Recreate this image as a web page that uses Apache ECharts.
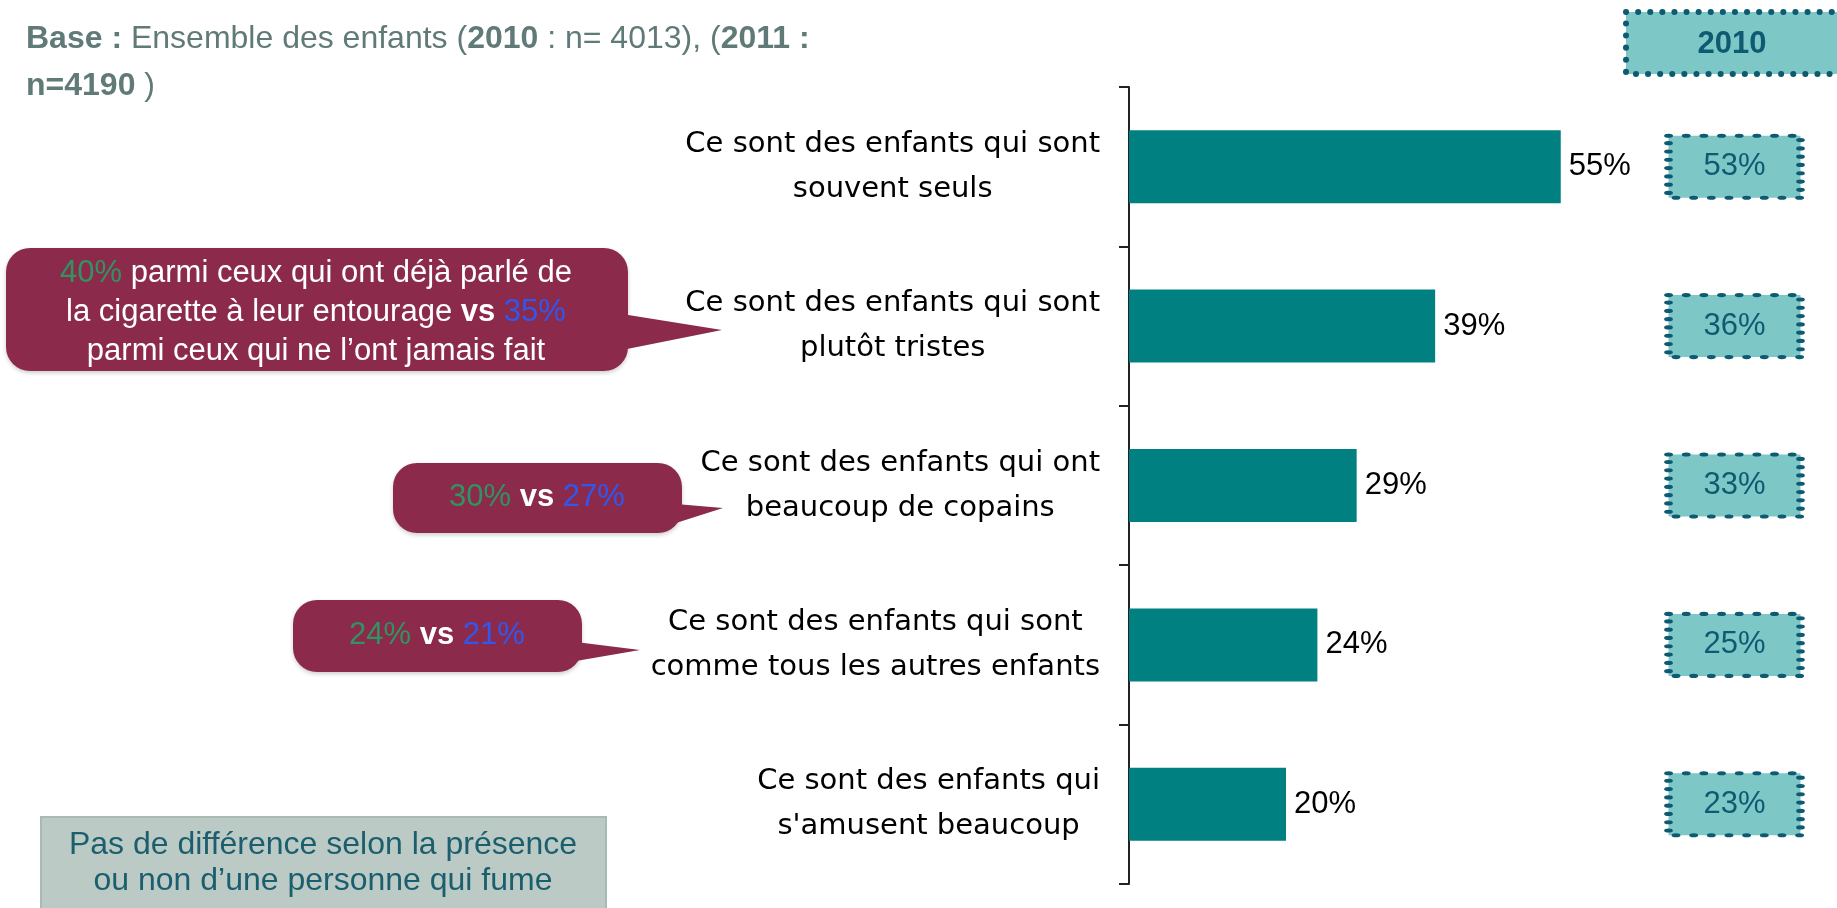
<!DOCTYPE html>
<html>
<head>
<meta charset="utf-8">
<title>Enfants - perception</title>
<script src="https://cdn.jsdelivr.net/npm/echarts@6/dist/echarts.min.js"></script>
<style>
    html, body { margin: 0; padding: 0; background: #fff; }
    #chart { width: 1837px; height: 908px; }
</style>
</head>
<body>
<div id="chart"></div>
<script>
// libellés des items (retour à la ligne comme dans l'original)
var categories = [
    'Ce sont des enfants qui sont\nsouvent seuls',
    'Ce sont des enfants qui sont\nplutôt tristes',
    'Ce sont des enfants qui ont\nbeaucoup de copains',
    'Ce sont des enfants qui sont\ncomme tous les autres enfants',
    'Ce sont des enfants qui\ns\'amusent beaucoup'
];
var values2011 = [55, 39, 29, 24, 20];
var values2010 = [53, 36, 33, 25, 23];
var yearColumn = ['2010'];

// bulles : [pourcentage vert, pourcentage bleu]
var bubble1 = ['40%', '35%'];
var bubble2 = ['30%', '27%'];
var bubble3 = ['24%', '21%'];

var baseText = ['Base :', ' Ensemble des enfants (', '2010', ' : n= 4013), (', '2011 :', 'n=4190', ' )'];
var noteText = 'Pas de différence selon la présence\nou non d’une personne qui fume';

var teal = '#008080';
var boxFill = '#7dc7c7';
var boxDark = '#0e5a70';
var bubbleColor = '#8c2a4b';
var sans = '"Liberation Sans", Arial, sans-serif';

var chart = echarts.init(document.getElementById('chart'));

// une bulle = rectangle arrondi + pointe + texte
function makeBubble(box, tail, text, textPos) {
    return {
        type: 'group',
        children: [{
            type: 'rect',
            shape: { x: box[0], y: box[1], width: box[2], height: box[3], r: 24 },
            style: { fill: bubbleColor, shadowBlur: 4, shadowOffsetY: 2, shadowColor: 'rgba(0,0,0,0.2)' }
        }, {
            type: 'polygon',
            shape: { points: tail },
            style: { fill: bubbleColor }
        }, {
            type: 'text',
            x: textPos[0],
            y: textPos[1],
            style: {
                text: text,
                fill: '#fff',
                font: '31px ' + sans,
                align: 'center',
                verticalAlign: 'middle',
                lineHeight: 39,
                rich: {
                    g: { fill: '#2f9462', fontSize: 31, fontFamily: sans, lineHeight: 39 },
                    u: { fill: '#2f58f0', fontSize: 31, fontFamily: sans, lineHeight: 39 },
                    b: { fill: '#fff', fontSize: 31, fontWeight: 'bold', fontFamily: sans, lineHeight: 39 }
                }
            }
        }]
    };
}

var option = {
    backgroundColor: '#fff',
    animation: false,
    grid: [
        { left: 1129, top: 87, bottom: 24, right: 80 },
        { left: 1666, top: 87, bottom: 24, width: 137 }
    ],
    xAxis: [
        { type: 'value', min: 0, max: 80, show: false, gridIndex: 0 },
        { type: 'category', data: yearColumn, show: false, gridIndex: 1 }
    ],
    yAxis: [{
        type: 'category',
        gridIndex: 0,
        inverse: true,
        data: categories,
        axisLine: { show: true, lineStyle: { color: '#222', width: 2 } },
        axisTick: { show: true, length: 10, lineStyle: { color: '#222', width: 2 } },
        splitLine: { show: false },
        axisLabel: {
            margin: 29,
            formatter: function (v) {
                return v.split('\n').map(function (l) { return '{c|' + l + '}'; }).join('\n');
            },
            rich: {
                c: { align: 'center', fontSize: 29, lineHeight: 45, color: '#000', fontFamily: '"Comic Sans MS", "DejaVu Sans", sans-serif' }
            }
        }
    }, {
        type: 'category',
        gridIndex: 1,
        inverse: true,
        data: categories,
        show: false
    }],
    series: [{
        name: '2011',
        type: 'bar',
        xAxisIndex: 0,
        yAxisIndex: 0,
        data: values2011,
        barWidth: 73,
        itemStyle: { color: teal },
        label: {
            show: true,
            position: 'right',
            distance: 8,
            formatter: '{c}%',
            color: '#000',
            fontSize: 31,
            fontFamily: sans
        }
    }, {
        name: '2010',
        type: 'scatter',
        xAxisIndex: 1,
        yAxisIndex: 1,
        symbol: 'rect',
        symbolSize: [132, 62],
        data: values2010.map(function (v, i) { return [0, i, v]; }),
        itemStyle: {
            color: boxFill,
            opacity: 1,
            borderColor: boxDark,
            borderWidth: 6,
            borderType: [0.1, 12],
            borderCap: 'round'
        },
        label: {
            show: true,
            position: 'inside',
            formatter: function (p) { return p.value[2] + '%'; },
            color: boxDark,
            fontSize: 31,
            fontFamily: sans
        }
    }],
    graphic: [
        // en-tête "Base"
        {
            type: 'text',
            left: 26,
            top: 16,
            style: {
                text: '{b|' + baseText[0] + '}' + baseText[1] + '{b|' + baseText[2] + '}' + baseText[3] + '{b|' + baseText[4] + '}\n{b|' + baseText[5] + '}' + baseText[6],
                fill: '#607a78',
                font: '32px ' + sans,
                lineHeight: 47,
                rich: {
                    b: { fill: '#607a78', fontSize: 32, fontWeight: 'bold', fontFamily: sans, lineHeight: 47 }
                }
            }
        },
        // case "2010" en haut à droite
        {
            type: 'rect',
            shape: { x: 1626, y: 12, width: 216, height: 62 },
            style: { fill: boxFill, stroke: boxDark, lineWidth: 6, lineDash: [0.1, 12], lineCap: 'round' }
        },
        {
            type: 'text',
            x: 1732,
            y: 44,
            style: {
                text: yearColumn[0],
                fill: boxDark,
                font: 'bold 31px ' + sans,
                align: 'center',
                verticalAlign: 'middle'
            }
        },
        makeBubble([6, 248, 622, 123], [[622, 314], [722, 330], [622, 350]],
            '{g|' + bubble1[0] + '} parmi ceux qui ont déjà parlé de\nla cigarette à leur entourage {b|vs} {u|' + bubble1[1] + '}\nparmi ceux qui ne l’ont jamais fait',
            [316, 312]),
        makeBubble([393, 463, 289, 70], [[676, 504], [723, 508], [676, 523]],
            '{g|' + bubble2[0] + '} {b|vs} {u|' + bubble2[1] + '}',
            [537, 497]),
        makeBubble([293, 600, 289, 72], [[576, 642], [640, 650], [576, 661]],
            '{g|' + bubble3[0] + '} {b|vs} {u|' + bubble3[1] + '}',
            [437, 635]),
        // encadré du bas
        {
            type: 'rect',
            shape: { x: 41, y: 817, width: 565, height: 100 },
            style: { fill: '#bccac5', stroke: '#a9b9b4', lineWidth: 2 }
        },
        {
            type: 'text',
            x: 323,
            y: 863,
            style: {
                text: noteText,
                fill: '#1b5e6e',
                font: '32px ' + sans,
                lineHeight: 36,
                align: 'center',
                verticalAlign: 'middle'
            }
        }
    ]
};
chart.setOption(option);
</script>
</body>
</html>
